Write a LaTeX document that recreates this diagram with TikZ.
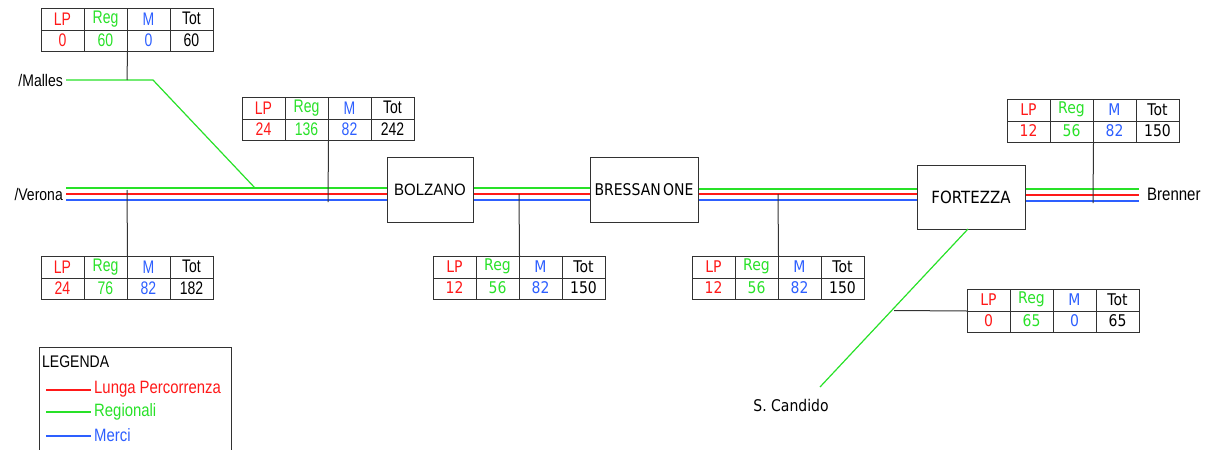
\documentclass[tikz,border=0pt]{standalone}
\usepackage{fontspec}
\usepackage{graphicx}
\setmainfont{Liberation Sans}
\newfontfamily\dvfont{DejaVu Sans}
\definecolor{lpred}{RGB}{255,25,25}
\definecolor{reggreen}{RGB}{40,225,40}
\definecolor{mblue}{RGB}{45,95,255}
\definecolor{framec}{RGB}{50,50,50}
\newcommand{\vs}[2][1.25]{\scalebox{1}[#1]{#2}}
\newcommand{\fs}{\fontsize{14}{16}\selectfont}
\newcommand{\fsb}{\fontsize{15}{17}\selectfont}
\tikzset{
  frameline/.style={draw=framec, line width=1pt},
  gtrack/.style={draw=reggreen, line width=1.2pt},
  rtrack/.style={draw=lpred, line width=1.2pt},
  btrack/.style={draw=mblue, line width=1.2pt},
  tabbox/.style={draw=framec, line width=1pt, inner sep=0pt, anchor=north west,
    minimum width=172pt, minimum height=43pt},
  cell/.style={inner sep=0pt, anchor=center, font=\fs},
  station/.style={draw=framec, line width=1pt, inner sep=0pt, font=\fsb},
  place/.style={inner sep=0pt, font=\fs},
}
% #1 name, #2 font, #3 x, #4 y, #5 lp, #6 reg, #7 m, #8 tot, #9 vscale
\newcommand{\flowtable}[9]{%
  \node[tabbox] (#1) at (#3,#4) {};
  \draw[frameline] (#1.west) -- (#1.east);
  \draw[frameline] ({#3+43},#4) -- ({#3+43},{#4+43});
  \draw[frameline] ({#3+86},#4) -- ({#3+86},{#4+43});
  \draw[frameline] ({#3+129},#4) -- ({#3+129},{#4+43});
  \node[cell, text=lpred]    (#1-h1) at ({#3+21.5},{#4+10.75}) {#2\fs\vs[#9]{LP}};
  \node[cell, text=reggreen] (#1-h2) at ({#3+64.5},{#4+10.75}) {#2\fs\vs[#9]{Reg}};
  \node[cell, text=mblue]    (#1-h3) at ({#3+107.5},{#4+10.75}) {#2\fs\vs[#9]{M}};
  \node[cell, text=black]    (#1-h4) at ({#3+150.5},{#4+10.75}) {#2\fs\vs[#9]{Tot}};
  \node[cell, text=lpred]    (#1-v1) at ({#3+21.5},{#4+32}) {#2\fs\vs[#9]{#5}};
  \node[cell, text=reggreen] (#1-v2) at ({#3+64.5},{#4+32}) {#2\fs\vs[#9]{#6}};
  \node[cell, text=mblue]    (#1-v3) at ({#3+107.5},{#4+32}) {#2\fs\vs[#9]{#7}};
  \node[cell, text=black]    (#1-v4) at ({#3+150.5},{#4+32}) {#2\fs\vs[#9]{#8}};
}
\begin{document}
\begin{tikzpicture}[x=1pt,y=-1pt]
\useasboundingbox (0,0) rectangle (1211,450);
\clip (0,0) rectangle (1211,450);

% stations
\node[station, minimum width=86pt, minimum height=65pt] (bolzano) at (430,189.5) {\vs[1.1]{BOLZANO}};
\node[station, minimum width=108pt, minimum height=65pt] (bressanone) at (644,189.5) {\dvfont\fs\vs[1.15]{BRESSAN\,ONE}};
\node[station, minimum width=108pt, minimum height=64pt] (fortezza) at (971,197) {\dvfont\fsb\vs[1.12]{FORTEZZA}};

% end labels
\node[place, anchor=east, inner xsep=3pt] (verona) at (66,194.5) {\vs[1.2]{/Verona}};
\node[place, anchor=east, inner xsep=3pt] (malles) at (66,80) {\vs[1.2]{/Malles}};
\node[place, anchor=west, inner xsep=8pt, font=\fsb] (brenner) at (1139,194.5) {\vs[1.2]{Brenner}};
\node[place, font=\dvfont\fontsize{14}{16}\selectfont] (candido) at (791,405) {\vs[1.15]{S.~Candido}};

% track reference rows
\coordinate (G) at (0,188);
\coordinate (R) at (0,194);
\coordinate (B) at (0,200);
\coordinate (G2) at (0,189);
\coordinate (R2) at (0,195);
\coordinate (B2) at (0,201);

% main line
\draw[gtrack] (verona.east |- G) -- (bolzano.west |- G);
\draw[rtrack] (verona.east |- R) -- (bolzano.west |- R);
\draw[btrack] (verona.east |- B) -- (bolzano.west |- B);
\draw[gtrack] (bolzano.east |- G) -- (bressanone.west |- G);
\draw[rtrack] (bolzano.east |- R) -- (bressanone.west |- R);
\draw[btrack] (bolzano.east |- B) -- (bressanone.west |- B);
\draw[gtrack] (bressanone.east |- G2) -- (fortezza.west |- G2);
\draw[rtrack] (bressanone.east |- R) -- (fortezza.west |- R);
\draw[btrack] (bressanone.east |- B) -- (fortezza.west |- B);
\draw[gtrack] (fortezza.east |- G2) -- (brenner.west |- G2);
\draw[rtrack] (fortezza.east |- R2) -- (brenner.west |- R2);
\draw[btrack] (fortezza.east |- B2) -- (brenner.west |- B2);

% Malles branch
\coordinate (mbend) at (153,80);
\coordinate (mjoin) at (255,188);
\draw[gtrack] (malles.east) -- (mbend) -- (mjoin);

% S. Candido branch
\coordinate (sctop) at (968,229);
\coordinate (scend) at (820,387);
\draw[gtrack] (sctop) -- (scend);

% tables
\flowtable{t1}{}{41}{8}{0}{60}{0}{60}{1.3}
\flowtable{t2}{}{41}{256}{24}{76}{82}{182}{1.3}
\flowtable{t3}{}{242}{97}{24}{136}{82}{242}{1.3}
\flowtable{t4}{\dvfont}{433}{256}{12}{56}{82}{150}{1.15}
\flowtable{t5}{\dvfont}{692}{256}{12}{56}{82}{150}{1.15}
\flowtable{t6}{\dvfont}{1007}{99}{12}{56}{82}{150}{1.15}
\flowtable{t7}{\dvfont}{967}{289}{0}{65}{0}{65}{1.15}

% table connectors
\coordinate (j1) at (127,80);
\coordinate (j2) at (127,190);
\coordinate (j3) at (328,202);
\coordinate (j4) at (519,194);
\coordinate (j5) at (778,194);
\coordinate (j6) at (1093,203);
\coordinate (j7) at (894,310.5);
\draw[frameline] (t1.south) -- (j1);
\draw[frameline] (j2) -- (t2.north);
\draw[frameline] (t3.south) -- (j3);
\draw[frameline] (j4) -- (t4.north);
\draw[frameline] (j5) -- (t5.north);
\draw[frameline] (t6.south) -- (j6);
\draw[frameline] (j7) -- (t7.west);

% legend
\node[draw=framec, line width=1pt, anchor=north west, minimum width=192pt, minimum height=130pt, inner sep=0pt] (legend) at (39,347) {};
\node[place, anchor=west] (legtitle) at (42,362) {\vs[1.2]{LEGENDA}};
\coordinate (l1a) at (46,390); \coordinate (l2a) at (46,412); \coordinate (l3a) at (46,436);
\node[place, anchor=west, inner xsep=3pt, text=lpred, font=\fontsize{14.9}{17}\selectfont] (leg1) at (91,389) {\vs[1.2]{Lunga Percorrenza}};
\node[place, anchor=west, inner xsep=3pt, text=reggreen, font=\fontsize{14.9}{17}\selectfont] (leg2) at (91,412) {\vs[1.2]{Regionali}};
\node[place, anchor=west, inner xsep=3pt, text=mblue, font=\fontsize{14.9}{17}\selectfont] (leg3) at (91,435) {\vs[1.2]{Merci}};
\draw[rtrack] (l1a) -- (l1a -| leg1.west);
\draw[gtrack] (l2a) -- (l2a -| leg2.west);
\draw[btrack] (l3a) -- (l3a -| leg3.west);
\end{tikzpicture}
\end{document}
